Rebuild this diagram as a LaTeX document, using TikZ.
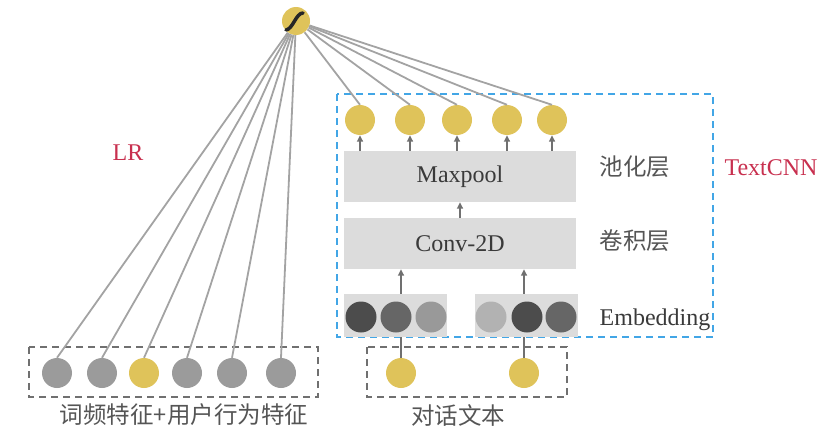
\documentclass[tikz,border=0pt]{standalone}
\usepackage{fontspec}
\setmainfont{Liberation Serif}
\newfontfamily\cjk{Noto Sans CJK SC}
\usetikzlibrary{arrows.meta}
\definecolor{gold}{HTML}{DFC35A}
\definecolor{feat}{HTML}{9B9B9B}
\definecolor{wire}{HTML}{A3A3A3}
\definecolor{layer}{HTML}{DCDCDC}
\definecolor{arr}{HTML}{707070}
\definecolor{cnnblue}{HTML}{42A6E6}
\definecolor{tag}{HTML}{C8304F}
\definecolor{ink}{HTML}{3A3A3A}
\definecolor{cjkink}{HTML}{555555}

\begin{document}
\begin{tikzpicture}[x=1pt,y=-1pt,
  unit/.style={circle, inner sep=0pt, minimum size=30pt},
  emb/.style={circle, inner sep=0pt, minimum size=31pt},
  layerbox/.style={fill=layer, inner sep=0pt},
  uparrow/.style={draw=arr, line width=1.5pt, -{Triangle[length=6.5pt,width=6pt]}},
  wireline/.style={draw=wire, line width=1.8pt},
  txt/.style={text=ink, font=\fontsize{24}{28}\selectfont},
  cjktxt/.style={text=cjkink, font=\fontsize{23.5}{28}\selectfont\cjk},
  redtxt/.style={text=tag, font=\fontsize{24}{28}\selectfont}]
  \useasboundingbox (0,0) rectangle (830,444);

  % frames
  \draw[cnnblue, line width=1.8pt, dash pattern=on 7pt off 5pt] (337,94) rectangle (713,337);
  \draw[arr, line width=1.8pt, dash pattern=on 7pt off 5pt] (29,347) rectangle (318,397);
  \draw[arr, line width=1.8pt, dash pattern=on 7pt off 5pt] (367,347) rectangle (567,397);

  % TextCNN layers
  \node[layerbox, minimum width=232pt, minimum height=51pt, txt] (pool) at (460,176.5) {Maxpool};
  \node[layerbox, minimum width=232pt, minimum height=51pt, txt] (conv) at (460,243.5) {Conv-2D};
  \node[layerbox, minimum width=103pt, minimum height=43pt] (embL) at (395.5,315.5) {};
  \node[layerbox, minimum width=103pt, minimum height=43pt] (embR) at (526.5,315.5) {};

  % embedding vectors
  \node[emb, fill=black!70] (e1) at (361,317) {};
  \node[emb, fill=black!60] (e2) at (396,317) {};
  \node[emb, fill=black!40] (e3) at (431,317) {};
  \node[emb, fill=black!30] (e4) at (491,317) {};
  \node[emb, fill=black!70] (e5) at (527,317) {};
  \node[emb, fill=black!60] (e6) at (561,317) {};

  % words of the dialogue
  \node[unit, fill=gold] (w1) at (401,373) {};
  \node[unit, fill=gold] (w2) at (524,373) {};

  % pooled outputs
  \node[unit, fill=gold] (p1) at (360,120) {};
  \node[unit, fill=gold] (p2) at (410,120) {};
  \node[unit, fill=gold] (p3) at (457,120) {};
  \node[unit, fill=gold] (p4) at (507,120) {};
  \node[unit, fill=gold] (p5) at (552,120) {};

  % LR features
  \node[unit, fill=feat] (f1) at (57,373) {};
  \node[unit, fill=feat] (f2) at (102,373) {};
  \node[unit, fill=gold] (f3) at (144,373) {};
  \node[unit, fill=feat] (f4) at (187,373) {};
  \node[unit, fill=feat] (f5) at (232,373) {};
  \node[unit, fill=feat] (f6) at (281,373) {};

  % sigmoid output
  \node[circle, inner sep=0pt, minimum size=28pt, fill=gold] (sig) at (296,21) {};
  \draw[black!85, line width=3.5pt, line cap=round]
    ([shift={(-10,9)}]sig.center) .. controls ([shift={(-3,8)}]sig.center) and ([shift={(0,-8)}]sig.center) .. ([shift={(7,-8)}]sig.center);

  % labels
  \node[txt] (embtxt) at (655,320) {Embedding};
  \node[cjktxt] (pooltxt) at (635,167) {池化层};
  \node[cjktxt] (convtxt) at (635,241) {卷积层};
  \node[cjktxt] (feattxt) at (184,415) {词频特征+用户行为特征};
  \node[cjktxt] (dialtxt) at (458,415) {对话文本};
  \node[redtxt] (lrtxt) at (128,153) {LR};
  \node[redtxt] (cnntxt) at (771,168) {TextCNN};

  % Draw the arrows inside TextCNN
  \draw[draw=arr, line width=1.5pt] (w1) -- (w1 |- embL.south);
  \draw[draw=arr, line width=1.5pt] (w2) -- (w2 |- embR.south);
  \draw[uparrow] (w1 |- embL.north) -- (w1 |- conv.south);
  \draw[uparrow] (w2 |- embR.north) -- (w2 |- conv.south);
  \draw[uparrow] (conv) -- (pool);
  \draw[uparrow] (p1 |- pool.north) -- (p1);
  \draw[uparrow] (p2 |- pool.north) -- (p2);
  \draw[uparrow] (p3 |- pool.north) -- (p3);
  \draw[uparrow] (p4 |- pool.north) -- (p4);
  \draw[uparrow] (p5 |- pool.north) -- (p5);

  % Draw the weights into the sigmoid
  \draw[wireline] (sig) -- (f1.north);
  \draw[wireline] (sig) -- (f2.north);
  \draw[wireline] (sig) -- (f3.north);
  \draw[wireline] (sig) -- (f4.north);
  \draw[wireline] (sig) -- (f5.north);
  \draw[wireline] (sig) -- (f6.north);
  \draw[wireline] (sig) -- (p1.north);
  \draw[wireline] (sig) -- (p2.north);
  \draw[wireline] (sig) -- (p3.north);
  \draw[wireline] (sig) -- (p4.north);
  \draw[wireline] (sig) -- (p5.north);
\end{tikzpicture}
\end{document}
